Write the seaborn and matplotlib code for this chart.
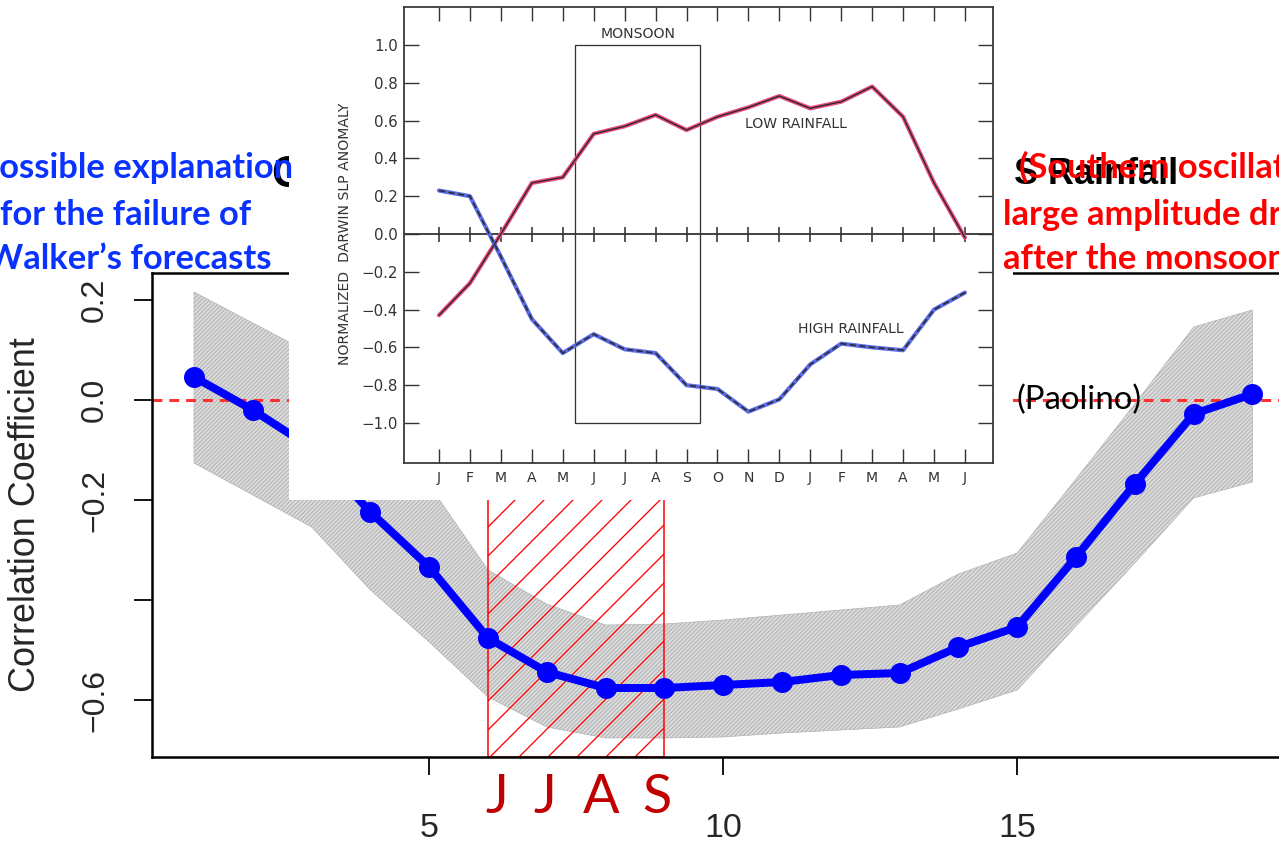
# -*- coding:utf-8 -*-

import matplotlib
matplotlib.use("Agg")
import matplotlib.pyplot as plt
from matplotlib.patches import Rectangle
import seaborn as sns


# Lienzo: 1279 x 842 px. El dpi alto da el espaciado del rayado rojo.
DPI = 174
W, H = 1279, 842


def pt(v):
    """Píxeles -> puntos."""
    return v * 72 / DPI


def fx(v):
    return v / W


def fy(v):
    return 1 - v / H


# Panel principal: correlación por desfase (meses)
lag = list(range(1, 20))
corr = [0.046, -0.02, -0.096, -0.224, -0.334, -0.476, -0.544, -0.576, -0.576, -0.57,
        -0.564, -0.55, -0.546, -0.494, -0.454, -0.314, -0.168, -0.028, 0.012]
band_hi = [0.216, 0.154, 0.092, -0.02, -0.17, -0.34, -0.408, -0.45, -0.448, -0.44,
           -0.43, -0.42, -0.41, -0.348, -0.306, -0.158, -0.008, 0.146, 0.18]
band_lo = [-0.126, -0.19, -0.254, -0.38, -0.484, -0.594, -0.654, -0.676, -0.676, -0.674,
           -0.666, -0.66, -0.654, -0.618, -0.58, -0.452, -0.326, -0.196, -0.164]
jjas_start, jjas_end = 6, 9
main_xticks = [5, 10, 15]
main_yticks = [0.2, 0.0, -0.2, -0.4, -0.6]
main_ylabels = ["0.2", "0.0", "\u22120.2", "", "\u22120.6"]
jjas_letters = ["J", "J", "A", "S"]

# Recuadro: anomalía de presión en Darwin
months = ["J", "F", "M", "A", "M", "J", "J", "A", "S", "O", "N", "D",
          "J", "F", "M", "A", "M", "J"]
low_rain = [-0.43, -0.26, 0.0, 0.27, 0.30, 0.53, 0.57, 0.63, 0.55, 0.62, 0.67, 0.73,
            0.665, 0.70, 0.78, 0.62, 0.27, -0.02]
high_rain = [0.23, 0.20, -0.12, -0.45, -0.63, -0.53, -0.61, -0.63, -0.80, -0.82, -0.94,
             -0.875, -0.69, -0.58, -0.60, -0.615, -0.40, -0.31]
inset_yticks = [1.0, 0.8, 0.6, 0.4, 0.2, 0.0, -0.2, -0.4, -0.6, -0.8, -1.0]
monsoon_start, monsoon_end = 4.4, 8.45

sns.set_style("ticks")
plt.rcParams["font.family"] = ["Liberation Sans", "DejaVu Sans"]
plt.rcParams["axes.unicode_minus"] = True

fig = plt.figure(figsize=(W / DPI, H / DPI), dpi=DPI)
fig.patch.set_facecolor("white")

# ---- panel principal ----
ax = fig.add_axes([fx(152), fy(757), fx(1320 - 152), (757 - 273) / H], zorder=0)
ax.set_xlim(1 + (152 - 194) / 58.8, 1 + (1320 - 194) / 58.8)
ax.set_ylim(-(757 - 400) / 500, (400 - 273) / 500)

plt.rcParams["hatch.linewidth"] = pt(0.9)
ax.fill_between(lag, band_lo, band_hi, facecolor="#dcdcdc", edgecolor="#adadad",
                hatch="/" * 14, linewidth=pt(0.6), zorder=1)
plt.rcParams["hatch.linewidth"] = pt(1.3)
ax.axvspan(jjas_start, jjas_end, facecolor="none", edgecolor="red", hatch="//",
           linewidth=pt(1.5), zorder=2)
ax.axhline(0, color="#ff3030", lw=pt(3), ls=(0, (3.3, 2.3)), zorder=2)
sns.lineplot(x=lag, y=corr, ax=ax, color="#0000ff", lw=pt(8), marker="o",
             markersize=pt(21), markeredgewidth=0, zorder=4)

ax.set_xticks(main_xticks)
ax.set_xticklabels([str(v) for v in main_xticks])
ax.set_yticks(main_yticks)
ax.set_yticklabels(main_ylabels, rotation=90, va="center")
ax.tick_params(axis="both", direction="out", length=pt(18), width=pt(1.8), color="black")
ax.tick_params(axis="x", pad=pt(38), labelsize=pt(34))
ax.tick_params(axis="y", pad=pt(24), labelsize=pt(32))
for s in ax.spines.values():
    s.set_linewidth(pt(2.5))
    s.set_color("black")
ax.set_xlabel("")
ax.set_ylabel("")

fig.text(fx(26), fy(515), "Correlation Coefficient", rotation=90, ha="center",
         va="center", fontsize=pt(36))

jjas_px = [497, 545, 601, 657]
for letter, xp in zip(jjas_letters, jjas_px):
    fig.text(fx(xp), fy(797), letter, ha="center", va="center", color="#c00000",
             fontsize=pt(54), family=["Lato", "DejaVu Sans"])

# título parcial tapado por el recuadro
fig.text(fx(271), fy(187), "C", fontsize=pt(44), weight="bold", color="black",
         ha="left", va="baseline", zorder=4)
fig.text(fx(1014), fy(184), "S Rainfall", fontsize=pt(36), weight="bold",
         color="black", ha="left", va="baseline", zorder=4)

# ---- fondo blanco del recuadro ----
cover = fig.add_axes([fx(289), fy(500), fx(1013 - 289), 500 / H], zorder=5)
cover.set_facecolor("white")
cover.set_xticks([])
cover.set_yticks([])
for s in cover.spines.values():
    s.set_visible(False)

# ---- recuadro ----
ins = fig.add_axes([fx(404), fy(463), fx(993 - 404), (463 - 7) / H], zorder=6)
ins.set_facecolor("white")
idx = list(range(len(months)))
ins.set_xlim((404 - 439) / 30.94, (993 - 439) / 30.94)
ins.set_ylim(-(463 - 234) / 189, (234 - 7) / 189)

ins.axhline(0, color="#333333", lw=pt(1.8), zorder=1)
ins.plot(idx, [0] * len(idx), ls="none", marker="|", ms=pt(15), mew=pt(1.6),
         color="#333333", zorder=1)
ins.add_patch(Rectangle((monsoon_start, -1.0), monsoon_end - monsoon_start, 2.0,
                        fill=False, edgecolor="#333333", lw=pt(1.3), zorder=1))
ins.text((monsoon_start + monsoon_end) / 2, 1.06, "MONSOON", ha="center", va="center",
         fontsize=pt(14), color="#333333", family=["DejaVu Sans"])

sns.lineplot(x=idx, y=low_rain, ax=ins, color="#ec4a7c", lw=pt(4.2), zorder=2)
sns.lineplot(x=idx, y=low_rain, ax=ins, color="#2b2b2b", lw=pt(1.4), zorder=3)
sns.lineplot(x=idx, y=high_rain, ax=ins, color="#5b6ce6", lw=pt(4.2), zorder=2)
sns.lineplot(x=idx, y=high_rain, ax=ins, color="#2b2b2b", lw=pt(1.6), zorder=3,
             dashes=False, ls=(0, (4, 2)))

ins.text(11.55, 0.58, "LOW RAINFALL", ha="center", va="center", fontsize=pt(14),
         color="#333333", family=["DejaVu Sans"])
ins.text(13.3, -0.50, "HIGH RAINFALL", ha="center", va="center", fontsize=pt(14),
         color="#333333", family=["DejaVu Sans"])

ins.set_xticks(idx)
ins.set_xticklabels(months, family=["DejaVu Sans"])
ins.set_yticks(inset_yticks)
ins.set_yticklabels([f"{v:.1f}".replace("-", "\u2212") for v in inset_yticks],
                    family=["DejaVu Sans"])
ins.tick_params(axis="x", direction="in", top=True, length=pt(14), width=pt(1.4),
                labelsize=pt(14), pad=pt(8), colors="#333333")
ins.tick_params(axis="y", direction="in", right=True, length=pt(15), width=pt(1.4),
                labelsize=pt(15), pad=pt(6), colors="#333333")
for s in ins.spines.values():
    s.set_linewidth(pt(1.8))
    s.set_color("#3a3a3a")
ins.set_xlabel("")
ins.set_ylabel("")
fig.text(fx(345), fy(234), "NORMALIZED  DARWIN SLP ANOMALY", rotation=90,
         ha="center", va="center", fontsize=pt(14), color="#333333",
         family=["DejaVu Sans"], zorder=7)

# ---- textos de la diapositiva ----
blue_lines = ["Possible explanation", "for the failure of", "Walker\u2019s forecasts"]
for line, xc, yb in zip(blue_lines, [136, 126, 129], [178, 225, 269]):
    fig.text(fx(xc), fy(yb), line, ha="center", va="baseline", color="#0a32ff",
             fontsize=pt(34.5), weight="bold", family=["Lato", "DejaVu Sans"], zorder=10)

red_lines = ["(Southern oscillation", "large amplitude drop", "after the monsoon"]
for line, xl, yb in zip(red_lines, [1019, 1003, 1003], [178, 225, 269]):
    fig.text(fx(xl), fy(yb), line, ha="left", va="baseline", color="#ff0000",
             fontsize=pt(34.5), weight="bold", family=["Lato", "DejaVu Sans"], zorder=10)

fig.text(fx(1017), fy(400), "(Paolino)", ha="left", va="center", color="black",
         fontsize=pt(33), family=["Lato", "DejaVu Sans"], zorder=10)

fig.savefig("out.png", dpi=DPI, facecolor="white")
